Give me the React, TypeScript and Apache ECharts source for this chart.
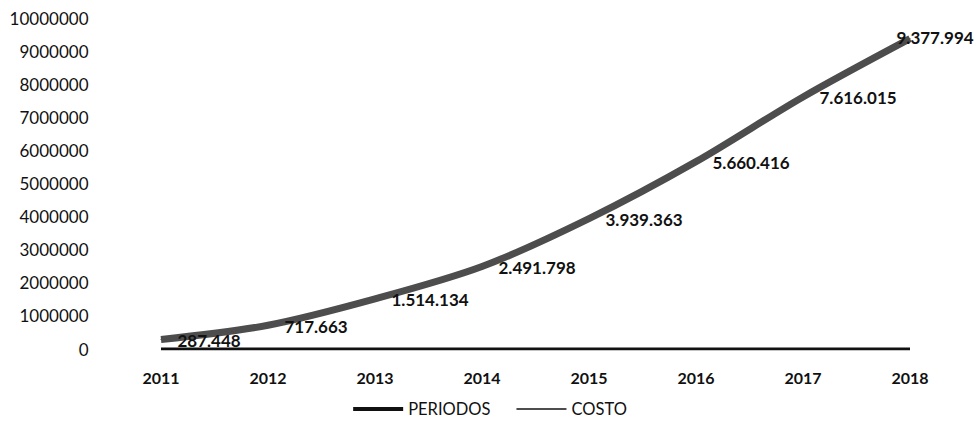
import React, { useEffect, useRef } from "react";
import * as echarts from "echarts";

const years = ["2011", "2012", "2013", "2014", "2015", "2016", "2017", "2018"];
const periodos = [2011, 2012, 2013, 2014, 2015, 2016, 2017, 2018];
const costo = [287448, 717663, 1514134, 2491798, 3939363, 5660416, 7616015, 9377994];

const fmt = (v: number) => String(Math.round(v)).replace(/\B(?=(\d{3})+(?!\d))/g, ".");

export default function App() {
  const ref = useRef<HTMLDivElement>(null);
  useEffect(() => {
    const chart = echarts.init(ref.current!, undefined, { renderer: "svg" });
    const costoData = costo.map((v, i) =>
      i === costo.length - 1 ? { value: v, label: { offset: [-30, -1] } } : { value: v }
    );
    chart.setOption({
      animation: false,
      textStyle: { fontFamily: "Lato, 'Open Sans', sans-serif" },
      grid: { left: 107.5, right: 16.5, top: 18, bottom: 74 },
      legend: {
        top: 395,
        left: "center",
        itemWidth: 50,
        itemHeight: 4,
        itemGap: 26,
        textStyle: { fontSize: 16.5, color: "#111", fontFamily: "Lato, sans-serif", lineHeight: 18 },
        data: [
          { name: "PERIODOS", icon: "rect" },
          { name: "COSTO", icon: "path://M0,0H50V2H0Z" },
        ],
      },
      xAxis: {
        type: "category",
        data: years,
        boundaryGap: true,
        axisLine: { show: false },
        axisTick: { show: false },
        axisLabel: { color: "#111", fontSize: 16, fontWeight: "bold", margin: 20 },
      },
      yAxis: {
        type: "value",
        min: 0,
        max: 10000000,
        interval: 1000000,
        splitLine: { show: false },
        axisLine: { show: false },
        axisTick: { show: false },
        axisLabel: { color: "#111", fontSize: 17, margin: 19, formatter: (v: number) => String(v) },
      },
      series: [
        {
          name: "PERIODOS",
          type: "line",
          data: periodos,
          symbol: "none",
          lineStyle: { color: "#111", width: 3 },
          itemStyle: { color: "#111" },
        },
        {
          name: "COSTO",
          type: "line",
          data: costoData,
          symbol: "circle",
          symbolSize: 1,
          showSymbol: true,
          smooth: 0.3,
          lineStyle: { color: "#4d4d4d", width: 7 },
          itemStyle: { color: "#4d4d4d" },
          label: {
            show: true,
            position: "right",
            distance: 16,
            offset: [0, 1],
            fontSize: 17,
            fontWeight: "bold",
            color: "#111",
            formatter: (p: any) => fmt(p.value),
          },
        },
      ],
    });
    return () => chart.dispose();
  }, []);
  return (
    <div
      ref={ref}
      style={{ position: "absolute", left: 0, top: 0, width: 980, height: 423 }}
    />
  );
}
